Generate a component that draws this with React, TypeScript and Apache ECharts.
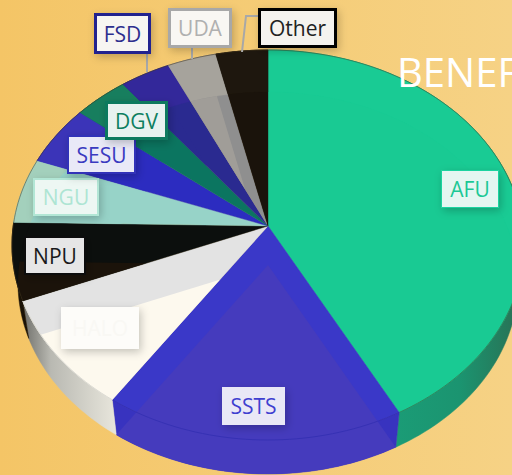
import React, { useEffect, useRef } from "react";
import * as echarts from "echarts";

const categories = ["AFU", "SSTS", "HALO", "NPU", "NGU", "SESU", "DGV", "FSD", "UDA", "Other"];
const shares = [42.2, 17.3, 9.4, 6.4, 5.4, 5.0, 3.8, 3.5, 3.4, 3.6];
const titleText = "BENEF";

const baseColors = ["#19cb94", "#3a38c8", "#e3e3e3", "#0c0f0d", "#97d3c8", "#2c2cc0", "#0b7560", "#2a2a90", "#8f8f8f", "#1e170e"];
const rimColors = ["#19cb94", "#3a38c8", "#e3e3e3", "#0c0f0d", "#a3d0bc", "#3b34b8", "#177e5e", "#33289a", "#a6a39c", "#1e170e"];
const ownColors = ["#19ca93", "#453bbd", "#fdf9ee", "#1b130a", "#97d3c8", "#2c2cc0", "#0b7560", "#2a2a90", "#a09d98", "#1a130b"];
const edgeColors = [
  "rgba(70,55,30,0.45)", "#3631b4", "#dddcd4", "rgba(70,55,30,0.5)", "rgba(70,55,30,0.5)",
  "rgba(70,55,30,0.5)", "rgba(70,55,30,0.5)", "rgba(70,55,30,0.5)", "rgba(70,55,30,0.5)", "rgba(70,55,30,0.5)",
];

const upper = { cx: 268, cy: 245, rx: 256, ry: 195, w0: -19 / 195 };
const lower = { cx: 268, cy: 283, rx: 250, ry: 191, w0: -18 / 191 };

const total = shares.reduce((a, b) => a + b, 0);
const starts: number[] = [];
shares.reduce((acc, v, i) => {
  starts[i] = acc;
  return acc + v;
}, 0);

type Ell = typeof upper;
const project = (deg: number, e: Ell): number[] => {
  const t = (deg * Math.PI) / 180;
  const a = Math.sin(t);
  const b = -Math.cos(t);
  const d = 1 + e.w0 * b;
  const s = Math.sqrt(1 - e.w0 * e.w0);
  return [e.cx + (e.rx * a * s) / d, e.cy + (e.ry * (b + e.w0)) / d];
};
const apexOf = (e: Ell): number[] => [e.cx, e.cy + e.ry * e.w0];

const arc = (from: number, to: number, e: Ell): number[][] => {
  const n = Math.max(2, Math.ceil(Math.abs(to - from) / 1.5));
  const pts: number[][] = [];
  for (let k = 0; k <= n; k++) pts.push(project(from + ((to - from) * k) / n, e));
  return pts;
};

const insideLower = (p: number[]) =>
  ((p[0] - lower.cx) / lower.rx) ** 2 + ((p[1] - lower.cy) / lower.ry) ** 2 <= 1;

const innerPoint = (deg: number): number[] => {
  const apex = apexOf(upper);
  const rim = project(deg, upper);
  if (insideLower(rim)) return rim;
  let lo = 0;
  let hi = 1;
  for (let k = 0; k < 24; k++) {
    const m = (lo + hi) / 2;
    const p = [apex[0] + (rim[0] - apex[0]) * m, apex[1] + (rim[1] - apex[1]) * m];
    if (insideLower(p)) lo = m;
    else hi = m;
  }
  return [apex[0] + (rim[0] - apex[0]) * lo, apex[1] + (rim[1] - apex[1]) * lo];
};

// Sutherland-Hodgman: keep the part of subject inside the convex, clockwise polygon clip
const clipConvex = (subject: number[][], clip: number[][]): number[][] => {
  let out = subject;
  for (let i = 0; i < clip.length && out.length; i++) {
    const a = clip[i];
    const b = clip[(i + 1) % clip.length];
    const side = (p: number[]) => (b[0] - a[0]) * (p[1] - a[1]) - (b[1] - a[1]) * (p[0] - a[0]);
    const input = out;
    out = [];
    for (let j = 0; j < input.length; j++) {
      const p = input[j];
      const q = input[(j + 1) % input.length];
      const sp = side(p);
      const sq = side(q);
      if (sp >= 0) out.push(p);
      if (sp >= 0 !== sq >= 0) {
        const t = sp / (sp - sq);
        out.push([p[0] + (q[0] - p[0]) * t, p[1] + (q[1] - p[1]) * t]);
      }
    }
  }
  return out;
};

const spanOf = (params: any, api: any) => {
  const i = params.dataIndex;
  const from = (starts[i] / total) * 360;
  const to = from + (api.value(0) / total) * 360;
  return { i, from, to };
};

const wallFill = (i: number): any => {
  if (i === 0)
    return new echarts.graphic.LinearGradient(0, 0, 1, 0, [
      { offset: 0, color: "#1aab82" },
      { offset: 0.75, color: "#1b9470" },
      { offset: 1, color: "#2a6e52" },
    ]);
  if (i === 1) return "#3833bf";
  if (i === 2)
    return new echarts.graphic.LinearGradient(0, 0, 1, 0, [
      { offset: 0, color: "#6f6f6a" },
      { offset: 0.3, color: "#b9b9b2" },
      { offset: 1, color: "#e8e6dc" },
    ]);
  if (i === 3) return "#1a1206";
  return baseColors[i];
};

const renderWall = (params: any, api: any) => {
  const { i, from, to } = spanOf(params, api);
  return {
    type: "polygon",
    shape: { points: [...arc(from, to, upper), ...arc(to, from, lower)] },
    style: { fill: wallFill(i), stroke: wallFill(i), lineWidth: 0.5 },
  };
};

const renderTop = (params: any, api: any) => {
  const { i, from, to } = spanOf(params, api);
  const n = Math.max(2, Math.ceil((to - from) / 1.5));
  const rimPts = arc(from, to, upper);
  const inner: number[][] = [];
  for (let k = n; k >= 0; k--) inner.push(innerPoint(from + ((to - from) * k) / n));
  const topWedge = [apexOf(upper), ...rimPts];
  const lowerWedge = [apexOf(lower), ...arc(from, to, lower)];
  const own = i === 1 ? lowerWedge : clipConvex(lowerWedge, topWedge);
  return {
    type: "group",
    children: [
      {
        type: "polygon",
        shape: { points: topWedge },
        style: { fill: baseColors[i], stroke: baseColors[i], lineWidth: 0.4 },
      },
      {
        type: "polygon",
        shape: { points: [...rimPts, ...inner] },
        style: { fill: rimColors[i], stroke: rimColors[i], lineWidth: 0.3 },
      },
      {
        type: "polygon",
        shape: { points: own },
        style: { fill: ownColors[i] },
      },
      {
        type: "polyline",
        shape: { points: rimPts },
        style: { fill: "none", stroke: edgeColors[i], lineWidth: 1 },
      },
    ],
  };
};

const labelBoxes = [
  { t: "AFU", x: 441, y: 170, w: 58, h: 38, fill: "#e4f6f1", border: "#1bd3a0", bw: 1, color: "#1bc895" },
  { t: "SSTS", x: 222, y: 387, w: 63, h: 38, fill: "#e9e8f6", border: "#e9e8f6", bw: 0, color: "#3f3fd0" },
  { t: "HALO", x: 61, y: 307, w: 78, h: 42, fill: "#fdfcf9", border: "#fdfcf9", bw: 0, color: "#f9f8f4" },
  { t: "NPU", x: 24, y: 236, w: 62, h: 39, fill: "#e6e6e6", border: "#0a0a0a", bw: 2, color: "#1a1a1a" },
  { t: "NGU", x: 33, y: 178, w: 66, h: 38, fill: "#edf7f3", border: "#b2e6d5", bw: 2, color: "#aee5d3" },
  { t: "SESU", x: 67, y: 135, w: 69, h: 39, fill: "#e9e9f7", border: "#3232b8", bw: 2, color: "#3a3ac0" },
  { t: "DGV", x: 105, y: 101, w: 63, h: 39, fill: "#e8f2f0", border: "#0e7a5f", bw: 3, color: "#0e7f60" },
  { t: "FSD", x: 94, y: 13, w: 57, h: 41, fill: "#f7f5f2", border: "#23238f", bw: 3, color: "#2e2e8e" },
  { t: "UDA", x: 168, y: 8, w: 64, h: 40, fill: "#f9f7f3", border: "#a8a8a8", bw: 3, color: "#b0b0b0" },
  { t: "Other", x: 258, y: 8, w: 79, h: 40, fill: "#f5f3ef", border: "#050505", bw: 3, color: "#222222" },
];

const leaderLines = [
  [[147, 54], [147, 72]],
  [[192, 48], [192, 59]],
  [[258, 16], [246, 16], [242, 52]],
];

const FONT = '"Open Sans", sans-serif';

export default function App() {
  const ref = useRef<HTMLDivElement>(null);
  useEffect(() => {
    document.body.style.margin = "0";
    const chart = echarts.init(ref.current!, undefined, { renderer: "svg" });
    const seriesData = shares.map((v, i) => ({ name: categories[i], value: v }));
    const base = { type: "custom", coordinateSystem: "none", silent: true, data: seriesData, animation: false };
    chart.setOption({
      animation: false,
      backgroundColor: {
        type: "linear",
        x: 0,
        y: 0,
        x2: 1,
        y2: 0,
        colorStops: [
          { offset: 0, color: "#f4c566" },
          { offset: 1, color: "#f6d285" },
        ],
      },
      series: [
        { ...base, name: "wall", z: 1, renderItem: renderWall },
        { ...base, name: "top", z: 2, renderItem: renderTop },
      ],
      graphic: [
        ...leaderLines.map((pts) => ({
          type: "polyline",
          z: 50,
          silent: true,
          shape: { points: pts },
          style: { fill: "none", stroke: "#a8a8a8", lineWidth: 2 },
        })),
        {
          type: "text",
          z: 60,
          silent: true,
          style: { text: titleText, x: 397, y: 91, fill: "#ffffff", font: `40px ${FONT}`, textAlign: "left", textVerticalAlign: "bottom" },
        },
        ...labelBoxes.flatMap((b) => [
          {
            type: "rect",
            z: 70,
            silent: true,
            shape: { x: b.x + b.bw / 2, y: b.y + b.bw / 2, width: b.w - b.bw, height: b.h - b.bw },
            style: {
              fill: b.fill,
              stroke: b.bw ? b.border : "none",
              lineWidth: b.bw,
              shadowBlur: 8,
              shadowOffsetX: 2,
              shadowOffsetY: 3,
              shadowColor: "rgba(0,0,0,0.22)",
            },
          },
          {
            type: "text",
            z: 71,
            silent: true,
            style: {
              text: b.t,
              x: b.x + b.w / 2,
              y: b.y + b.h / 2,
              fill: b.color,
              font: `21px ${FONT}`,
              textAlign: "center",
              textVerticalAlign: "middle",
            },
          },
        ]),
      ],
    });
    return () => chart.dispose();
  }, []);
  return <div ref={ref} style={{ width: 512, height: 475 }} />;
}
